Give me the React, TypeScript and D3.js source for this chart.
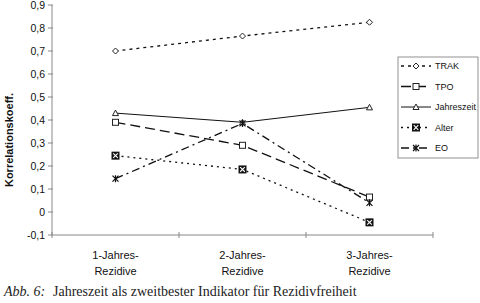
import React from 'react';
import * as d3 from 'd3';

const categories = ['1-Jahres-|Rezidive', '2-Jahres-|Rezidive', '3-Jahres-|Rezidive'];
const seriesNames = ['TRAK', 'TPO', 'Jahreszeit', 'Alter', 'EO'];
const trak = [0.70, 0.765, 0.825];
const tpo = [0.39, 0.29, 0.065];
const jahreszeit = [0.43, 0.39, 0.455];
const alter = [0.245, 0.185, -0.045];
const eo = [0.145, 0.385, 0.04];
const yTicks = [-0.1, 0, 0.1, 0.2, 0.3, 0.4, 0.5, 0.6, 0.7, 0.8, 0.9];

const seriesValues = [trak, tpo, jahreszeit, alter, eo];
const dashes = ['3,4', '10,5', null, '2,4', '8,4,2,4'];
const markers = ['diamond', 'square', 'triangle', 'boxx', 'star'];

const W = 480, H = 303;
const left = 52, right = 433, top = 5, bottom = 235;

const fmt = (v: number) => (Math.round(v * 10) / 10).toString().replace('.', ',');

function Marker({ type, x, y }: { type: string; x: number; y: number }) {
  const s = 3;
  if (type === 'diamond')
    return <path d={`M${x},${y - s}L${x + s},${y}L${x},${y + s}L${x - s},${y}Z`} fill="#fff" stroke="#222" strokeWidth={1} />;
  if (type === 'square')
    return <rect x={x - s} y={y - s} width={2 * s} height={2 * s} fill="#fff" stroke="#222" strokeWidth={1} />;
  if (type === 'triangle')
    return <path d={`M${x},${y - s}L${x + s},${y + s - 0.5}L${x - s},${y + s - 0.5}Z`} fill="#fff" stroke="#222" strokeWidth={1} />;
  if (type === 'boxx')
    return (
      <g>
        <rect x={x - 4} y={y - 4} width={8} height={8} fill="#111" />
        <path d={`M${x - 2.3},${y - 2.3}L${x + 2.3},${y + 2.3}M${x + 2.3},${y - 2.3}L${x - 2.3},${y + 2.3}`} stroke="#fff" strokeWidth={1.1} />
      </g>
    );
  return (
    <path
      d={`M${x - 3},${y - 3}L${x + 3},${y + 3}M${x + 3},${y - 3}L${x - 3},${y + 3}M${x},${y - 3.5}L${x},${y + 3.5}`}
      stroke="#111" strokeWidth={1.2}
    />
  );
}

export default function App() {
  const x = d3.scaleBand().domain(categories).range([left, right]);
  const y = d3.scaleLinear().domain([-0.1, 0.9]).range([bottom, top]);
  const cx = (c: string) => (x(c) ?? 0) + x.bandwidth() / 2;
  const line = d3.line<number>().x((_, i) => cx(categories[i])).y(d => y(d));
  const xTicks = [...categories.map(c => x(c) ?? 0), right];

  const legendX = 398, legendY = 57, legendRow = 20.5;

  return (
    <svg width={W} height={H} style={{ position: 'absolute', left: 0, top: 0, background: '#fff' }} fontFamily="Arial, 'Liberation Sans', sans-serif">
      {/* axes */}
      <line x1={left} x2={left} y1={top} y2={bottom} stroke="#888" />
      <line x1={left} x2={right} y1={bottom} y2={bottom} stroke="#888" />
      {yTicks.map(t => (
        <g key={t}>
          <line x1={left - 4} x2={left + 1} y1={y(t)} y2={y(t)} stroke="#888" />
          <text x={left - 7} y={y(t)} dy="0.35em" textAnchor="end" fontSize={10.5} fill="#111">{fmt(t)}</text>
        </g>
      ))}
      {xTicks.map((t, i) => (
        <line key={i} x1={t} x2={t} y1={bottom - 3} y2={bottom + 3} stroke="#888" />
      ))}
      {categories.map(c => {
        const [a, b] = c.split('|');
        return (
          <text key={c} x={cx(c)} textAnchor="middle" fontSize={11} fill="#111">
            <tspan x={cx(c)} y={259}>{a}</tspan>
            <tspan x={cx(c)} y={275}>{b}</tspan>
          </text>
        );
      })}
      <text transform={`translate(13,${(top + bottom) / 2 + 20}) rotate(-90)`} textAnchor="middle" fontSize={11} fontWeight="bold" fill="#111">
        Korrelationskoeff.
      </text>

      {/* series */}
      {seriesValues.map((vals, si) => (
        <g key={si}>
          <path d={line(vals) ?? ''} fill="none" stroke="#111" strokeWidth={si === 2 ? 1 : 1.3} strokeDasharray={dashes[si] ?? undefined} />
          {vals.map((v, i) => (
            <Marker key={i} type={markers[si]} x={cx(categories[i])} y={y(v)} />
          ))}
        </g>
      ))}

      {/* legend */}
      <rect x={legendX} y={legendY} width={80} height={101} fill="#fff" stroke="#777" strokeWidth={0.8} />
      {seriesNames.map((n, i) => {
        const ly = legendY + 9 + i * legendRow;
        return (
          <g key={n}>
            <line x1={legendX + 3} x2={legendX + 33} y1={ly} y2={ly} stroke="#111" strokeWidth={i === 2 ? 1 : 1.3} strokeDasharray={dashes[i] ?? undefined} />
            <Marker type={markers[i]} x={legendX + 18} y={ly} />
            <text x={legendX + 37} y={ly} dy="0.35em" fontSize={9} fill="#111">{n}</text>
          </g>
        );
      })}

      {/* caption */}
      <text x={4} y={296} fontSize={14} fontFamily="'Liberation Serif', serif" fill="#222">
        <tspan fontStyle="italic">Abb. 6:</tspan>
        <tspan x={53}>Jahreszeit als zweitbester Indikator für Rezidivfreiheit</tspan>
      </text>
    </svg>
  );
}
